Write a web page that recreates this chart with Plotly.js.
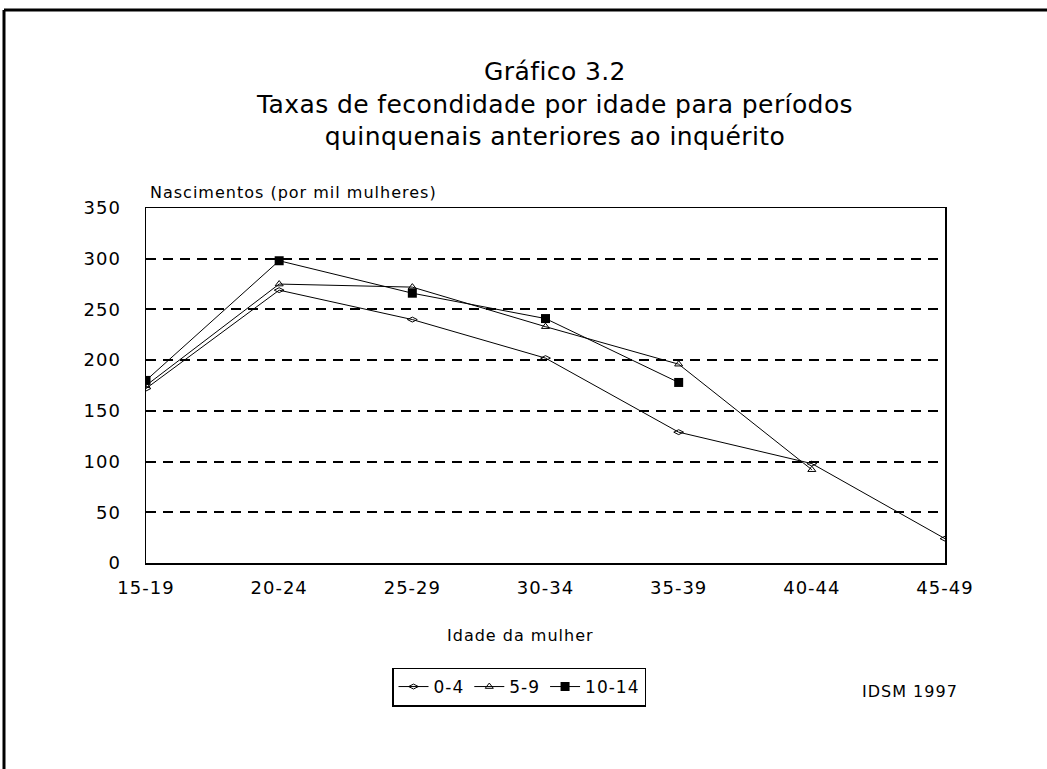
<!DOCTYPE html>
<html>
<head>
<meta charset="utf-8">
<script src="https://cdn.plot.ly/plotly-3.0.1.min.js"></script>
<style>html,body{margin:0;padding:0;background:#fff;}#chart{width:1047px;height:769px;} text{letter-spacing:1px;} .gtitle{letter-spacing:0.4px;}</style>
</head>
<body>
<div id="chart"></div>
<script>
const ageGroups = ["15-19","20-24","25-29","30-34","35-39","40-44","45-49"];
const series04 = [172, 269, 240, 202, 129, 98, 24];
const series59 = [175, 275, 272, 233, 196, 92];
const series1014 = [180, 298, 266, 241, 178];
const seriesNames = ["0-4", "5-9", "10-14"];
const yTicks = [0, 50, 100, 150, 200, 250, 300, 350];

const font = "DejaVu Sans, Verdana, sans-serif";
const traces = [
  {x: ageGroups.slice(0, series04.length), y: series04, name: seriesNames[0], mode: "lines+markers",
   line: {color: "#000", width: 1}, marker: {symbol: "diamond-wide-open", size: 7, color: "#000", line: {width: 1, color: "#000"}}},
  {x: ageGroups.slice(0, series59.length), y: series59, name: seriesNames[1], mode: "lines+markers",
   line: {color: "#000", width: 1}, marker: {symbol: "triangle-up-open", size: 7, color: "#000", line: {width: 1, color: "#000"}}},
  {x: ageGroups.slice(0, series1014.length), y: series1014, name: seriesNames[2], mode: "lines+markers",
   line: {color: "#000", width: 1}, marker: {symbol: "square", size: 9, color: "#000"}}
];

const px = v => (v - 146) / 799;
const py = v => (563 - v) / 355;

const layout = {
  width: 1047, height: 769,
  margin: {l: 146, r: 102, t: 208, b: 206},
  paper_bgcolor: "#fff", plot_bgcolor: "#fff",
  font: {family: font, color: "#000", size: 18},
  title: {text: "Gráfico 3.2<br>Taxas de fecondidade por idade para períodos<br>quinquenais anteriores ao inquérito",
          x: 555 / 1047, xanchor: "center", xref: "container", y: 1 - 80 / 769, yanchor: "top",
          font: {family: font, size: 25, color: "#000"}},
  xaxis: {type: "category", categoryorder: "array", categoryarray: ageGroups, range: [0, 6],
          showgrid: false, zeroline: false, showline: true, linecolor: "#000", linewidth: 1.5, mirror: true,
          ticks: "", tickfont: {size: 18, family: font}, ticklabelstandoff: 8},
  yaxis: {range: [0, 350], tickvals: yTicks, ticktext: yTicks.map(String),
          showgrid: true, gridcolor: "#000", gridwidth: 2, griddash: "10px,7px",
          zeroline: false, showline: true, linecolor: "#000", linewidth: 1.5, mirror: true,
          ticks: "", tickfont: {size: 18, family: font}, ticklabelstandoff: 20},
  showlegend: true,
  legend: {orientation: "h", x: px(519), xanchor: "center", y: py(687), yanchor: "middle",
           bordercolor: "#000", borderwidth: 1.5, bgcolor: "#fff", font: {size: 17, family: font},
           itemwidth: 30, tracegroupgap: 0},
  annotations: [
    {text: "Nascimentos (por mil mulheres)", xref: "paper", yref: "paper", x: px(148), y: py(192),
     xanchor: "left", yanchor: "middle", showarrow: false, font: {size: 16, family: font}},
    {text: "Idade da mulher", xref: "paper", yref: "paper", x: px(520), y: py(635),
     xanchor: "center", yanchor: "middle", showarrow: false, font: {size: 16, family: font}},
    {text: "IDSM 1997", xref: "paper", yref: "paper", x: px(960), y: py(691),
     xanchor: "right", yanchor: "middle", showarrow: false, font: {size: 16, family: font}}
  ],
  shapes: [
    {type: "line", xref: "paper", yref: "paper", x0: px(4), x1: px(1060), y0: py(10), y1: py(10),
     line: {color: "#000", width: 3}},
    {type: "line", xref: "paper", yref: "paper", x0: px(4), x1: px(4), y0: py(10), y1: py(780),
     line: {color: "#000", width: 3}}
  ]
};

Plotly.newPlot("chart", traces, layout, {displayModeBar: false, staticPlot: true});
</script>
</body>
</html>
